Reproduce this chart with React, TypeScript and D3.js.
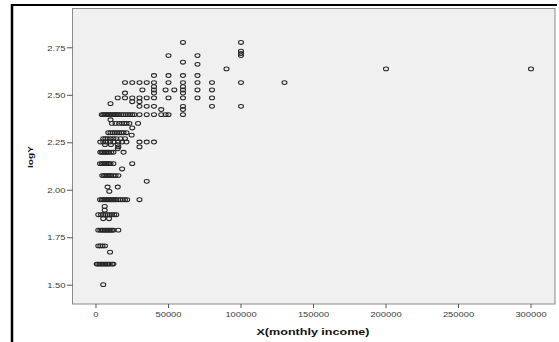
import React from "react";
import * as d3 from "d3";

const xTicks = [0, 50000, 100000, 150000, 200000, 250000, 300000];
const yTicks = [1.5, 1.75, 2.0, 2.25, 2.5, 2.75];

// logY levels (rows) and the monthly incomes (in thousands) observed at each level
const logYLevels = [
  2.778, 2.732, 2.72, 2.709, 2.674, 2.663, 2.639, 2.604, 2.567, 2.545, 2.528, 2.512,
  2.486, 2.466, 2.456, 2.442, 2.425, 2.398, 2.371, 2.352, 2.328, 2.303, 2.29, 2.272,
  2.254, 2.24, 2.228, 2.218, 2.2, 2.14, 2.112, 2.077, 2.047, 2.017, 1.994, 1.95,
  1.915, 1.895, 1.871, 1.85, 1.79, 1.707, 1.674, 1.611, 1.503,
];
const incomesK = [
  [60, 100],
  [100],
  [100],
  [50, 70, 100],
  [60],
  [70],
  [90, 200, 300],
  [40, 50, 60, 70],
  [20, 25, 30, 35, 40, 50, 60, 70, 80, 100, 130],
  [40, 60],
  [32, 40, 48, 54, 60, 70, 80],
  [20, 40, 60],
  [15, 20, 25, 30, 35, 40, 50, 60, 70, 80],
  [25, 30],
  [10],
  [30, 35, 40, 60, 80, 100],
  [45, 60],
  [4, 5, 6, 7, 8, 9, 10, 11, 12, 13, 14, 15, 16, 17.5, 19, 20.5, 22, 23.5, 25, 26.5, 30, 35, 40, 45, 48, 50, 60],
  [10],
  [11, 13.5, 16, 18, 19.5, 21, 23, 29],
  [25],
  [8.5, 10, 11.5, 13, 14.5, 16, 17.5, 19, 21],
  [24.6],
  [5, 6.5, 8, 10, 12, 14, 17, 20],
  [3, 5, 7, 9.7, 12, 15.4, 18, 21, 30, 35, 40],
  [6.2, 10.3, 15],
  [15.4, 30],
  [15],
  [3, 4, 5, 6, 7, 8, 9, 10.5, 12, 19],
  [2.8, 4, 5, 6, 7, 8, 9, 10, 12, 25],
  [18],
  [4.3, 5.5, 6.5, 7.5, 8.5, 9.5, 10.5, 12, 13.5, 15.4],
  [35],
  [8, 15],
  [9.2],
  [2.8, 4, 5, 6, 7, 8, 9, 10, 11, 12, 13, 14, 15.4, 17, 18.5, 20, 21.5, 30],
  [6],
  [6],
  [1.6, 3.5, 5, 6.5, 8, 9.5, 11, 12.5, 14],
  [5, 9],
  [1.6, 3, 4, 5, 6, 7, 8, 9, 10, 11, 12, 15.4],
  [1.6, 3, 4.5, 6.2],
  [9.7],
  [0.5, 1.5, 2.5, 3.5, 4.5, 5.5, 6.5, 7.5, 8.5, 9.5, 11, 12],
  [5],
];

function labelLen(s: string) {
  let n = 0;
  for (const c of s) n += c === "." ? 2.7 : 5.2;
  return n;
}

export default function App() {
  const W = 559;
  const H = 342;
  const x = d3.scaleLinear().domain([-16200, 316550]).range([72.5, 555]);
  const y = d3.scaleLinear().domain([1.401, 2.957]).range([304, 8.5]);
  const points = logYLevels.flatMap((lv, i) =>
    incomesK[i].map((k) => ({ inc: k * 1000, v: lv }))
  );
  const fmtY = d3.format(".2f");
  const [x0, x1] = x.range();
  const [y0, y1] = y.range();

  return (
    <svg
      width={W}
      height={H}
      style={{ position: "absolute", left: 0, top: 0, background: "#fff" }}
      fontFamily="Arial, 'Liberation Sans', sans-serif"
    >
      {/* outer frame */}
      <line x1={11} y1={5} x2={557} y2={5} stroke="#000" strokeWidth={2} />
      <line x1={12} y1={4} x2={12} y2={H} stroke="#000" strokeWidth={2.5} />

      {/* plot area */}
      <rect x={x0} y={y1} width={x1 - x0} height={y0 - y1} fill="#f0f0f0" stroke="#8a8a8a" strokeWidth={1} />

      {/* y axis */}
      {yTicks.map((t) => {
        const ty = y(t);
        const s = fmtY(t);
        return (
          <g key={"y" + t}>
            <line x1={67} x2={x0} y1={ty} y2={ty} stroke="#555" strokeWidth={1} />
            <text x={65.5} y={ty + 2.7} textAnchor="end" fontSize={8} fill="#3a3a3a"
              textLength={labelLen(s)} lengthAdjust="spacingAndGlyphs">{s}</text>
          </g>
        );
      })}

      {/* x axis */}
      {xTicks.map((t) => {
        const tx = x(t);
        const s = String(t);
        return (
          <g key={"x" + t}>
            <line x1={tx} x2={tx} y1={y0} y2={y0 + 4} stroke="#555" strokeWidth={1} />
            <text x={tx} y={317} textAnchor="middle" fontSize={8} fill="#3a3a3a"
              textLength={labelLen(s)} lengthAdjust="spacingAndGlyphs">{s}</text>
          </g>
        );
      })}

      {/* axis titles */}
      <text x={313} y={335} textAnchor="middle" fontSize={9.5} fontWeight="bold" fill="#111"
        textLength={113} lengthAdjust="spacingAndGlyphs">X(monthly income)</text>
      <text transform="translate(32.5,157) rotate(-90)" textAnchor="middle" fontSize={8}
        fontWeight="bold" fill="#111" textLength={22} lengthAdjust="spacingAndGlyphs">logY</text>

      {/* points */}
      <g fill="none" stroke="#262626" strokeWidth={1.05}>
        {points.map((p, i) => (
          <ellipse key={i} cx={x(p.inc)} cy={y(p.v)} rx={2.5} ry={1.9} />
        ))}
      </g>
    </svg>
  );
}
